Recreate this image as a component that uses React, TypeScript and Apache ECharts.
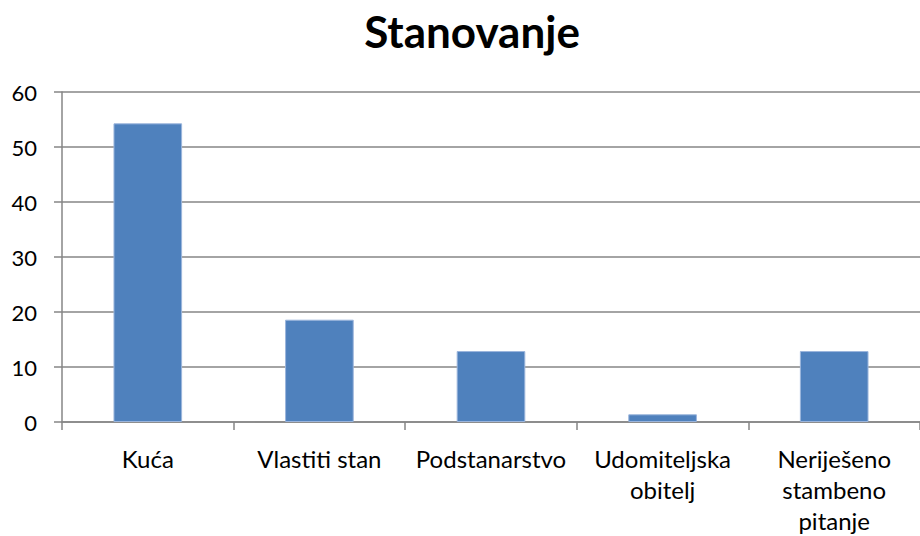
import React, { useEffect, useRef } from "react";
import * as echarts from "echarts";

const titleText = "Stanovanje";
const categories = [
  "Kuća",
  "Vlastiti stan",
  "Podstanarstvo",
  "Udomiteljska\nobitelj",
  "Neriješeno\nstambeno\npitanje",
];
const values = [54.3, 18.6, 12.9, 1.4, 12.9];
const yMin = 0;
const yMax = 60;
const yInterval = 10;

const FONT = "Lato, 'Open Sans', sans-serif";

export default function App() {
  const ref = useRef<HTMLDivElement>(null);
  useEffect(() => {
    if (!ref.current) return;
    const chart = echarts.init(ref.current, undefined, { renderer: "svg" });
    chart.setOption({
      animation: false,
      backgroundColor: "#ffffff",
      title: {
        text: titleText,
        left: 467,
        textAlign: "center",
        top: 4,
        textStyle: {
          fontFamily: FONT,
          fontSize: 44,
          fontWeight: "bold",
          color: "#000000",
        },
      },
      grid: { left: 62, right: 0, top: 92, bottom: 112.5, containLabel: false },
      xAxis: {
        type: "category",
        data: categories,
        axisLine: { lineStyle: { color: "#868686", width: 1.5 } },
        axisTick: { show: true, length: 8, alignWithLabel: false, lineStyle: { color: "#868686", width: 1.5 } },
        axisLabel: {
          interval: 0,
          margin: 21,
          fontFamily: FONT,
          fontSize: 24,
          lineHeight: 31,
          color: "#000000",
        },
      },
      yAxis: {
        type: "value",
        min: yMin,
        max: yMax,
        interval: yInterval,
        axisLine: { show: true, lineStyle: { color: "#868686", width: 1.5 } },
        axisTick: { show: true, length: 8, lineStyle: { color: "#868686", width: 1.5 } },
        splitLine: { lineStyle: { color: "#868686", width: 1.5 } },
        axisLabel: {
          margin: 25,
          fontFamily: FONT,
          fontSize: 22,
          color: "#000000",
        },
      },
      series: [
        {
          type: "bar",
          data: values,
          barWidth: "40%",
          itemStyle: { color: "#4F81BD", borderColor: "#9bb5dc", borderWidth: 1 },
        },
      ],
    });
    return () => chart.dispose();
  }, []);
  return (
    <div
      ref={ref}
      style={{ position: "fixed", left: 0, top: 0, width: 920, height: 536 }}
    />
  );
}
